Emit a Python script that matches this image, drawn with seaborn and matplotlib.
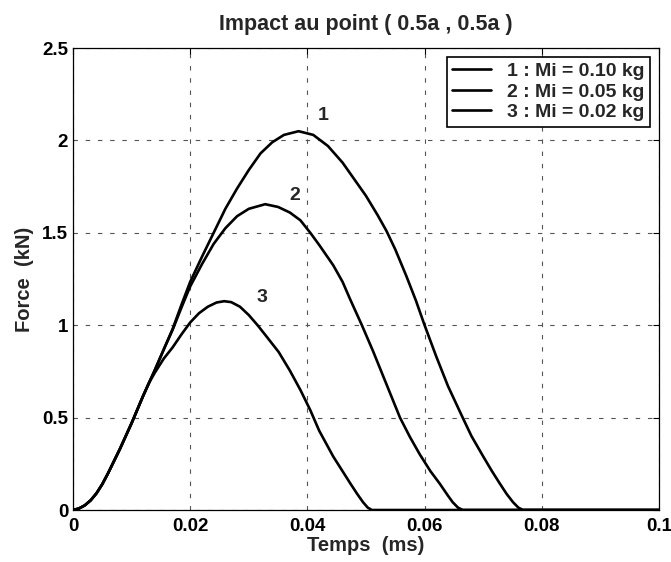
import numpy as np
import pandas as pd
import matplotlib
matplotlib.use("Agg")
import matplotlib.pyplot as plt
import seaborn as sns
from matplotlib.lines import Line2D

# ---- data ----
# common rising part shared by the three curves
t_common = [0.0, 0.001, 0.002, 0.003, 0.004, 0.005, 0.006, 0.007, 0.008, 0.009,
            0.010, 0.011, 0.012, 0.013]
f_common = [0.0, 0.008, 0.025, 0.052, 0.09, 0.14, 0.20, 0.265, 0.33, 0.40,
            0.47, 0.545, 0.62, 0.69]

t1 = [0.014, 0.0155, 0.017, 0.0185, 0.020, 0.022, 0.024, 0.026, 0.028, 0.030, 0.032,
      0.034, 0.036, 0.0385, 0.041, 0.0435, 0.046, 0.048, 0.050, 0.052, 0.0535, 0.055,
      0.0569, 0.0585, 0.060, 0.062, 0.064, 0.0665, 0.068, 0.070, 0.0715, 0.0728,
      0.074, 0.0751, 0.076, 0.0768, 0.1]
f1 = [0.76, 0.87, 0.98, 1.11, 1.235, 1.37, 1.50, 1.63, 1.74, 1.84, 1.93,
      1.99, 2.03, 2.05, 2.03, 1.97, 1.88, 1.79, 1.70, 1.595, 1.51, 1.41,
      1.265, 1.135, 1.00, 0.83, 0.67, 0.50, 0.40, 0.29, 0.21, 0.145,
      0.087, 0.042, 0.013, 0.0, 0.0]

t2 = [0.014, 0.0155, 0.017, 0.0185, 0.020, 0.022, 0.024, 0.026, 0.028, 0.030, 0.0328,
      0.035, 0.037, 0.0388, 0.0405, 0.042, 0.0444, 0.046, 0.0473, 0.0493, 0.0512,
      0.0535, 0.0558, 0.0575, 0.0592, 0.061, 0.0626, 0.064, 0.0648, 0.0657, 0.0665, 0.1]
f2 = [0.76, 0.87, 0.975, 1.095, 1.21, 1.33, 1.44, 1.525, 1.59, 1.63, 1.655,
      1.64, 1.61, 1.568, 1.50, 1.435, 1.325, 1.235, 1.14, 1.00, 0.86,
      0.68, 0.50, 0.395, 0.30, 0.21, 0.142, 0.077, 0.042, 0.013, 0.0, 0.0]

t3 = [0.014, 0.0155, 0.017, 0.0185, 0.020, 0.0215, 0.023, 0.0245, 0.0258, 0.027,
      0.0285, 0.030, 0.0315, 0.033, 0.0351, 0.037, 0.0388, 0.0405, 0.042, 0.0444,
      0.046, 0.0473, 0.0485, 0.0495, 0.0503, 0.051, 0.1]
f3 = [0.745, 0.82, 0.88, 0.95, 1.015, 1.065, 1.10, 1.123, 1.13, 1.125,
      1.10, 1.055, 1.0, 0.94, 0.855, 0.755, 0.65, 0.54, 0.43, 0.29,
      0.21, 0.145, 0.087, 0.042, 0.013, 0.0, 0.0]

series_names = ["1 : Mi = 0.10 kg", "2 : Mi = 0.05 kg", "3 : Mi = 0.02 kg"]
curve_labels = ["1", "2", "3"]
label_pos_t = [0.0427, 0.0378, 0.0323]
label_pos_f = [2.135, 1.70, 1.15]

frames = []
for name, tt, ff in zip(series_names, [t1, t2, t3], [f1, f2, f3]):
    frames.append(pd.DataFrame({"t": t_common + tt, "F": f_common + ff, "serie": name}))
df = pd.concat(frames, ignore_index=True)

# ---- plot ----
sns.set_theme(style="white")
plt.rcParams["font.family"] = ["Liberation Sans", "DejaVu Sans"]
plt.rcParams["font.weight"] = "bold"

fig = plt.figure(figsize=(6.71, 5.62), dpi=100)
ax = fig.add_axes([0.1088, 0.0925, 0.8733, 0.822])

sns.lineplot(data=df, x="t", y="F", hue="serie", units="serie", estimator=None,
             sort=False, palette=["black"] * 3, linewidth=1.9, legend=False, ax=ax)

ax.set_xlim(0, 0.1)
ax.set_ylim(0, 2.5)
ax.set_xticks([0, 0.02, 0.04, 0.06, 0.08, 0.1])
ax.set_xticklabels(["0", "0.02", "0.04", "0.06", "0.08", "0.1"])
ax.set_yticks([0, 0.5, 1, 1.5, 2, 2.5])
ax.set_yticklabels(["0", "0.5", "1", "1.5", "2", "2.5"])
ax.tick_params(direction="in", top=True, right=True, length=4, width=0.8,
               labelsize=13.5, colors="black")
ax.tick_params(axis="x", pad=5.5)
ax.tick_params(axis="y", pad=3.5)
for lbl in ax.get_xticklabels() + ax.get_yticklabels():
    lbl.set_fontweight("bold")

ax.grid(True, color="#555555", linestyle=(0, (4, 7)), linewidth=0.8)
for sp in ax.spines.values():
    sp.set_visible(True)
    sp.set_color("black")
    sp.set_linewidth(0.9)

ax.set_xlabel("Temps  (ms)", fontsize=14.5, fontweight="bold", labelpad=1)
ax.set_ylabel("Force  (kN)", fontsize=14.5, fontweight="bold", labelpad=6)
ax.set_title("Impact au point ( 0.5a , 0.5a )", fontsize=15.5, fontweight="bold", pad=13)

for lab, tx, fy in zip(curve_labels, label_pos_t, label_pos_f):
    ax.text(tx, fy, lab, fontsize=14, fontweight="bold", ha="center", va="center")

handles = [Line2D([0], [0], color="black", lw=1.9) for _ in series_names]
leg = ax.legend(handles, series_names, loc="upper right",
                prop={"weight": "bold", "size": 14}, frameon=True, fancybox=False,
                edgecolor="black", framealpha=1, handlelength=2.0, borderpad=0.3,
                labelspacing=0.15, handletextpad=0.8, borderaxespad=0.45)
leg.get_frame().set_linewidth(1.2)

fig.savefig("out.png", dpi=100)
